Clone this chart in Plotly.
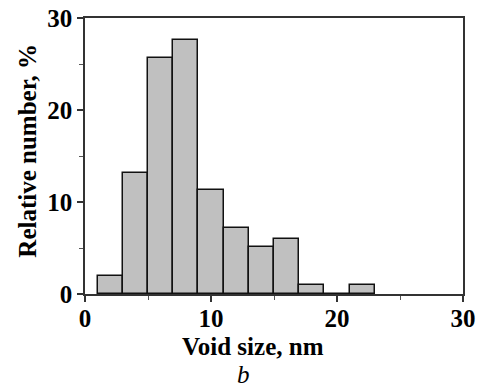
import plotly.graph_objects as go

bin_centers = [2, 4, 6, 8, 10, 12, 14, 16, 18, 20, 22]
rel_number = [2.0, 13.2, 25.6, 27.6, 11.3, 7.2, 5.1, 6.0, 1.0, 0.0, 1.0]
bin_width = 2
tick_vals = [0, 10, 20, 30]

FONT = "Liberation Serif"

fig = go.Figure()
fig.add_trace(go.Bar(
    x=bin_centers, y=rel_number, width=[bin_width] * len(bin_centers),
    marker=dict(color="#c0c0c0", line=dict(color="#111111", width=1.5)),
    showlegend=False,
))

axis_common = dict(
    range=[0, 30], tickvals=tick_vals, ticks="outside", ticklen=6, tickwidth=1.5,
    tickcolor="#333333", showline=True, linecolor="#333333", linewidth=1.5,
    mirror=True, showgrid=False, zeroline=False, automargin=False,
    tickfont=dict(family=FONT, size=25, color="black", weight="bold"),
    minor=dict(tickvals=[5, 15, 25], ticks="outside", ticklen=4, tickwidth=1.2,
               tickcolor="#555555"),
)

fig.update_layout(
    width=481, height=388,
    margin=dict(l=85, r=18, t=18, b=94),
    paper_bgcolor="white", plot_bgcolor="white",
    xaxis=dict(**axis_common, ticklabelstandoff=-5),
    yaxis=dict(**axis_common),
    bargap=0,
    annotations=[
        dict(text="Void size, nm", xref="paper", yref="paper", x=0.445, y=-0.192,
             xanchor="center", yanchor="middle", showarrow=False,
             font=dict(family=FONT, size=25, color="black", weight="bold")),
        dict(text="<i>b</i>", xref="paper", yref="paper", x=0.419, y=-0.292,
             xanchor="center", yanchor="middle", showarrow=False,
             font=dict(family=FONT, size=25, color="black")),
        dict(text="Relative number, %", xref="paper", yref="paper", x=-0.153, y=0.52,
             xanchor="center", yanchor="middle", showarrow=False, textangle=-90,
             font=dict(family=FONT, size=25, color="black", weight="bold")),
    ],
)

fig.write_html("out.html")
